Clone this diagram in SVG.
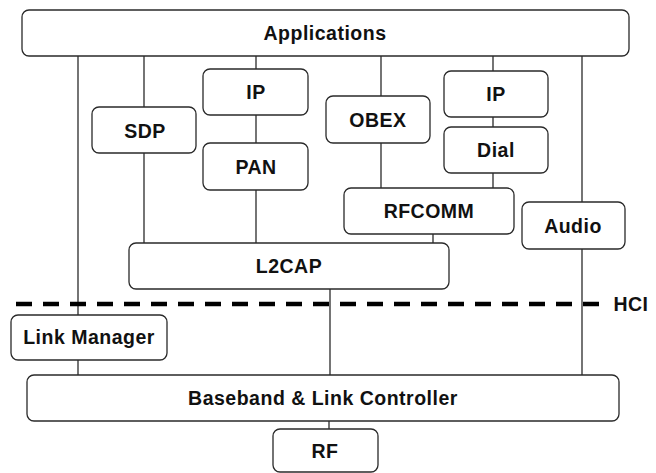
<svg xmlns="http://www.w3.org/2000/svg" width="656" height="473" viewBox="0 0 656 473">
  <style>
    .box { fill: #ffffff; stroke: #2a2a2a; stroke-width: 1.3; }
    .lbl { font-family: "Liberation Sans", Arial, sans-serif; font-weight: bold; font-size: 19.5px; letter-spacing: 0.5px; fill: #111111; text-anchor: middle; }
    .wire { stroke: #2a2a2a; stroke-width: 1.3; fill: none; }
    .hci { stroke: #000000; stroke-width: 4.5; stroke-dasharray: 16 11; fill: none; }
  </style>
  <rect x="0" y="0" width="656" height="473" fill="#ffffff"/>

  <!-- connectors between layers -->
  <g id="connectors">
    <line class="wire" x1="78" y1="56" x2="78" y2="315"/>
    <line class="wire" x1="78" y1="360" x2="78" y2="375"/>
    <line class="wire" x1="144" y1="56" x2="144" y2="107"/>
    <line class="wire" x1="144" y1="153" x2="144" y2="243"/>
    <line class="wire" x1="256" y1="56" x2="256" y2="69"/>
    <line class="wire" x1="256" y1="115" x2="256" y2="143"/>
    <line class="wire" x1="256" y1="190" x2="256" y2="243"/>
    <line class="wire" x1="381" y1="56" x2="381" y2="96"/>
    <line class="wire" x1="381" y1="143" x2="381" y2="188"/>
    <line class="wire" x1="493" y1="56" x2="493" y2="71"/>
    <line class="wire" x1="493" y1="117" x2="493" y2="127"/>
    <line class="wire" x1="493" y1="173" x2="493" y2="188"/>
    <line class="wire" x1="433" y1="234" x2="433" y2="243"/>
    <line class="wire" x1="582" y1="56" x2="582" y2="202"/>
    <line class="wire" x1="582" y1="249" x2="582" y2="375"/>
    <line class="wire" x1="330" y1="289" x2="330" y2="375"/>
    <line class="wire" x1="329" y1="421" x2="329" y2="429"/>
  </g>

  <!-- host controller interface boundary -->
  <g id="hci">
    <line class="hci" x1="16" y1="304" x2="601" y2="304"/>
    <text class="lbl" x="631" y="311">HCI</text>
  </g>

  <g id="applications">
    <rect class="box" x="22" y="10" width="607" height="46" rx="7"/>
    <text class="lbl" x="325" y="40">Applications</text>
  </g>
  <g id="sdp">
    <rect class="box" x="92" y="107" width="104" height="46" rx="7"/>
    <text class="lbl" x="145" y="138">SDP</text>
  </g>
  <g id="ip-pan">
    <rect class="box" x="203" y="69" width="105" height="46" rx="7"/>
    <text class="lbl" x="256" y="99">IP</text>
  </g>
  <g id="pan">
    <rect class="box" x="203" y="143" width="105" height="47" rx="7"/>
    <text class="lbl" x="256" y="174">PAN</text>
  </g>
  <g id="obex">
    <rect class="box" x="326" y="96" width="104" height="47" rx="7"/>
    <text class="lbl" x="378" y="127">OBEX</text>
  </g>
  <g id="ip-dial">
    <rect class="box" x="444" y="71" width="104" height="46" rx="7"/>
    <text class="lbl" x="496" y="101">IP</text>
  </g>
  <g id="dial">
    <rect class="box" x="444" y="127" width="104" height="46" rx="7"/>
    <text class="lbl" x="496" y="157">Dial</text>
  </g>
  <g id="rfcomm">
    <rect class="box" x="344" y="188" width="170" height="46" rx="7"/>
    <text class="lbl" x="429" y="218">RFCOMM</text>
  </g>
  <g id="audio">
    <rect class="box" x="522" y="202" width="103" height="47" rx="7"/>
    <text class="lbl" x="573" y="233">Audio</text>
  </g>
  <g id="l2cap">
    <rect class="box" x="129" y="243" width="320" height="46" rx="7"/>
    <text class="lbl" x="289" y="273">L2CAP</text>
  </g>
  <g id="link-manager">
    <rect class="box" x="11" y="315" width="156" height="45" rx="7"/>
    <text class="lbl" x="89" y="344">Link Manager</text>
  </g>
  <g id="baseband">
    <rect class="box" x="27" y="375" width="592" height="46" rx="7"/>
    <text class="lbl" x="323" y="405">Baseband &amp; Link Controller</text>
  </g>
  <g id="rf">
    <rect class="box" x="273" y="429" width="105" height="43" rx="7"/>
    <text class="lbl" x="325" y="458">RF</text>
  </g>
</svg>
